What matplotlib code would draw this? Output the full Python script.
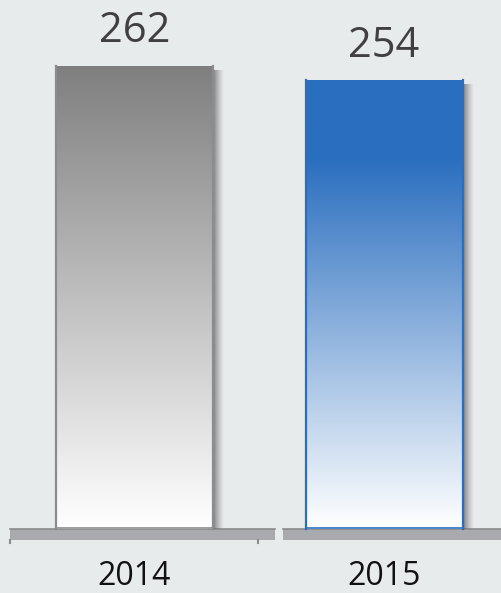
import matplotlib.pyplot as plt
import numpy as np
from matplotlib.colors import LinearSegmentedColormap
from matplotlib.patches import Rectangle

years = ['2014', '2015']
values = [262, 254]
top_colors = ['#7f7f7f', '#2a6ebf']
edge_colors = ['#8c8c8c', '#2a6ebf']
# where the fade starts (fraction of bar height from top)
fade_start = [0.0, 0.17]

W, H = 502, 593
bg = '#e8ebec'

fig = plt.figure(figsize=(W / 100, H / 100), dpi=100)
fig.patch.set_facecolor(bg)
ax = fig.add_axes([0, 0, 1, 1])
ax.set_facecolor(bg)

# pixel mapping: baseline at y=529px, 262 -> 66px
px_per_unit = (529 - 66) / 262
ax.set_ylim(-(H - 529) / px_per_unit, 529 / px_per_unit)
xscale = 249.5
ax.set_xlim(-134.5 / xscale, (W - 134.5) / xscale)
ax.axis('off')

x = np.arange(len(years))
width = 157 / xscale
bars = ax.bar(x, values, width, color='none', edgecolor='none', zorder=3)

for i, b in enumerate(bars):
    x0, y0 = b.get_x(), b.get_y()
    w, h = b.get_width(), b.get_height()
    # shadow on the right
    sh = np.linspace(0, 1, 64).reshape(1, -1)
    shadow = LinearSegmentedColormap.from_list('sh', [(0.35, 0.35, 0.35, 0.75), (0.55, 0.55, 0.55, 0.0)])
    ax.imshow(sh, cmap=shadow, aspect='auto', extent=[x0 + w, x0 + w + 11 / xscale, y0, y0 + h - 4 / px_per_unit],
              zorder=2, interpolation='bilinear')
    # vertical gradient fill (row 0 = top of bar)
    cm = LinearSegmentedColormap.from_list('g%d' % i, [(0, top_colors[i]), (fade_start[i], top_colors[i]),
                                                      (1, '#ffffff')])
    grad = np.linspace(0, 1, 256).reshape(-1, 1)
    im = ax.imshow(grad, cmap=cm, aspect='auto', extent=[x0, x0 + w, y0, y0 + h], zorder=3,
                   interpolation='bilinear')
    im.set_clip_path(b)
    # thin edges
    ax.plot([x0, x0], [y0, y0 + h], color=edge_colors[i], lw=1.6, zorder=4)
    ax.plot([x0 + w, x0 + w], [y0, y0 + h], color=edge_colors[i], lw=1.6, zorder=4)
    ax.plot([x0, x0 + w], [y0 + 0.6, y0 + 0.6], color=edge_colors[i], lw=1.2, zorder=4)
    ax.annotate(str(values[i]), (x[i], values[i]), xytext=(0, 17), textcoords='offset points',
                ha='center', va='baseline', fontsize=30, color='#404040', family='Open Sans')
    ax.text(x[i], -(585 - 529) / px_per_unit, years[i], ha='center', va='baseline', fontsize=23,
            color='#111111', family='Open Sans')

# base platform (two segments)
plat_h = 11 / px_per_unit
for (a, c) in [(10, 275), (283, 505)]:
    xa, xc = (a - 134.5) / xscale, (c - 134.5) / xscale
    ax.add_patch(Rectangle((xa, -plat_h), xc - xa, plat_h, facecolor='#a9aaad', edgecolor='none', zorder=1))
    ax.plot([xa, xc], [0, 0], color='#8a8b8d', lw=1.2, zorder=1.5)
for p in [10, 258]:
    xp = (p - 134.5) / xscale
    ax.plot([xp, xp], [-plat_h, -plat_h - 2.5 / px_per_unit], color='#8a8b8d', lw=1.5, zorder=1.5)

fig.savefig('out.png', dpi=100, facecolor=bg)
